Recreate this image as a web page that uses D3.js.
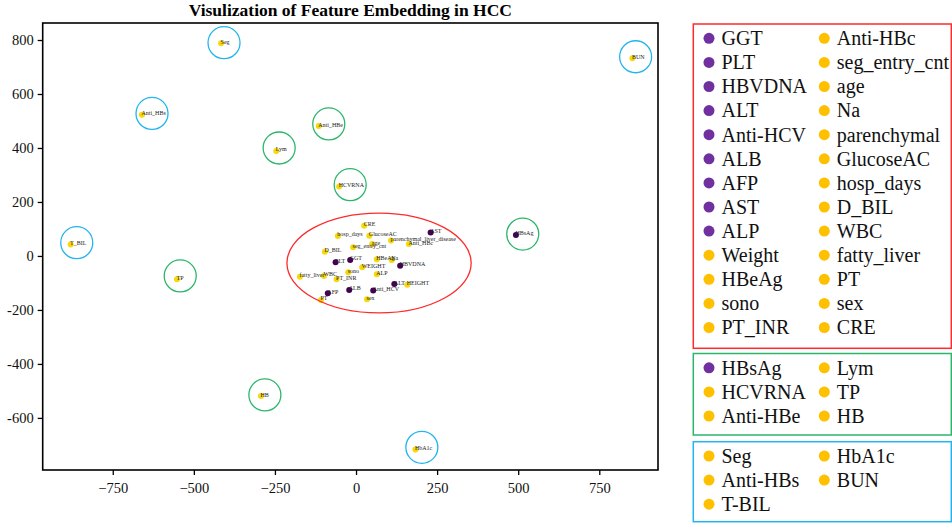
<!DOCTYPE html>
<html>
<head>
<meta charset="utf-8">
<script src="https://cdn.jsdelivr.net/npm/d3@7"></script>
<style>
  body { margin: 0; background: #fff; }
  svg { display: block; font-family: "Liberation Serif", "DejaVu Serif", serif; }
</style>
</head>
<body>
<div id="chart"></div>
<script>
// embedding points (t-SNE like coordinates)
const names = ["CRE","hosp_days","GlucoseAC","age","seg_entry_cnt","parenchymal_liver_disease","Anti_HBc","AST",
  "D_BIL","PLT","GGT","HBeAg","Na","HBVDNA","WEIGHT","sono","ALP","fatty_liver","WBC","PT_INR","ALT","HEIGHT",
  "AFP","ALB","Anti_HCV","PT","sex",
  "Seg","Anti_HBs","Anti_HBe","Lym","T_BIL","TP","HCVRNA","BUN","HBsAg","HB","HbA1c"];
const xs = [25,-56,41,50,-9,108,163,230,
  -96,-63,-18,64,110,136,19,-24,64,-173,-99,-60,118,158,
  -87,-21,53,-108,34,
  -416,-660,-115,-246,-880,-552,-52,852,493,-293,183];
const ys = [112,74,75,44,32,57,44,87,
  16,-23,-15,-12,-15,-36,-42,-60,-68,-77,-74,-86,-104,-107,
  -138,-126,-128,-163,-160,
  788,523,481,389,42,-86,257,732,78,-519,-717];
// 1 = purple class, 0 = yellow class
const cls = [0,0,0,0,0,0,0,1,
  0,1,1,0,0,1,0,0,0,0,0,0,1,0,
  1,1,1,0,0,
  0,0,0,0,0,0,0,0,1,0,0];

// highlight rings
const ringNames = ["Seg","Anti_HBs","Anti_HBe","Lym","T_BIL","TP","HCVRNA","BUN","HBsAg","HB","HbA1c"];
const ringX = [-407,-629,-84,-237,-861,-542,-18,862,514,-281,203];
const ringY = [790,528,489,400,49,-74,264,738,81,-515,-709];
const ringGroup = ["blue","blue","green","green","blue","green","green","blue","green","green","blue"];
const ellipse = {cx: 71, cy: -26, rx: 284, ry: 185};

const xTicks = [-750,-500,-250,0,250,500,750];
const yTicks = [-600,-400,-200,0,200,400,600,800];

// legend lists
const legend1Col1 = ["GGT","PLT","HBVDNA","ALT","Anti-HCV","ALB","AFP","AST","ALP","Weight","HBeAg","sono","PT_INR"];
const legend1Col1Cls = [1,1,1,1,1,1,1,1,1,0,0,0,0];
const legend1Col2 = ["Anti-HBc","seg_entry_cnt","age","Na","parenchymal","GlucoseAC","hosp_days","D_BIL","WBC","fatty_liver","PT","sex","CRE"];
const legend2Col1 = ["HBsAg","HCVRNA","Anti-HBe"];
const legend2Col1Cls = [1,0,0];
const legend2Col2 = ["Lym","TP","HB"];
const legend3Col1 = ["Seg","Anti-HBs","T-BIL"];
const legend3Col2 = ["HbA1c","BUN"];

const W = 952, H = 525;
const plot = {left: 42.7, right: 658, top: 23, bottom: 470};
const ringColor = {red: "#ff2a2a", green: "#2bb66a", blue: "#22b4ee"};
const dotColor = ["#f5d90a", "#440154"];
const legColor = ["#ffc000", "#7030a0"];

const svg = d3.select("#chart").append("svg")
  .attr("width", W).attr("height", H);

const x = d3.scaleLinear().domain([-966, 931]).range([plot.left, plot.right]);
const y = d3.scaleLinear().domain([-793, 863]).range([plot.bottom, plot.top]);

svg.append("text")
  .attr("x", (plot.left + plot.right) / 2).attr("y", 16)
  .attr("text-anchor", "middle")
  .style("font-size", "17.5px").style("font-weight", "bold")
  .text("Visulization of Feature Embedding in HCC");

// axes
const xAxis = svg.append("g")
  .attr("transform", `translate(0,${plot.bottom})`)
  .call(d3.axisBottom(x).tickValues(xTicks).tickSize(5).tickPadding(8)
    .tickFormat(d => d < 0 ? "\u2212" + Math.abs(d) : d));
const yAxis = svg.append("g")
  .attr("transform", `translate(${plot.left},0)`)
  .call(d3.axisLeft(y).tickValues(yTicks).tickSize(5).tickPadding(4)
    .tickFormat(d => String(d)));
[xAxis, yAxis].forEach(a => {
  a.select(".domain").remove();
  a.selectAll("line").attr("stroke", "#000").attr("stroke-width", 1.3);
  a.selectAll("text").style("font-size", "14.5px").style("font-family", "Liberation Serif, serif").attr("fill", "#111");
});

svg.append("rect")
  .attr("x", plot.left).attr("y", plot.top)
  .attr("width", plot.right - plot.left).attr("height", plot.bottom - plot.top)
  .attr("fill", "none").attr("stroke", "#000").attr("stroke-width", 1.6);

// points
const pts = names.map((n, i) => ({name: n, x: xs[i], y: ys[i], c: cls[i]}));
svg.append("g").selectAll("circle").data(pts).join("circle")
  .attr("cx", d => x(d.x)).attr("cy", d => y(d.y)).attr("r", 3)
  .attr("fill", d => dotColor[d.c]);
svg.append("g").selectAll("text").data(pts).join("text")
  .attr("x", d => x(d.x) - 0.5).attr("y", d => y(d.y) + 0.5)
  .style("font-size", "6px").attr("fill", "#222")
  .text(d => d.name);

// rings
svg.append("ellipse")
  .attr("cx", x(ellipse.cx)).attr("cy", y(ellipse.cy))
  .attr("rx", x(ellipse.rx) - x(0)).attr("ry", y(0) - y(ellipse.ry))
  .attr("fill", "none").attr("stroke", ringColor.red).attr("stroke-width", 1.3);
svg.append("g").selectAll("circle").data(ringNames).join("circle")
  .attr("cx", (d, i) => x(ringX[i])).attr("cy", (d, i) => y(ringY[i])).attr("r", 16)
  .attr("fill", "none").attr("stroke", (d, i) => ringColor[ringGroup[i]]).attr("stroke-width", 1.3);

// legend boxes
function legendBox(top, bottom, color, col1, col1Cls, col2) {
  const g = svg.append("g");
  g.append("rect").attr("x", 693.3).attr("y", top).attr("width", 258).attr("height", bottom - top)
    .attr("fill", "none").attr("stroke", color).attr("stroke-width", 1.5);
  const rows = [];
  col1.forEach((t, i) => rows.push({t, col: 0, row: i, c: col1Cls[i]}));
  col2.forEach((t, i) => rows.push({t, col: 1, row: i, c: 0}));
  const item = g.selectAll("g").data(rows).join("g")
    .attr("transform", d => `translate(${d.col ? 824.3 : 709},${top + 14.3 + d.row * 24.1})`);
  item.append("circle").attr("r", 5.5).attr("fill", d => legColor[d.c]);
  item.append("text").attr("x", 12.5).attr("y", 6.8)
    .style("font-size", "20px").attr("fill", "#111").text(d => d.t);
}
legendBox(24, 348.3, ringColor.red, legend1Col1, legend1Col1Cls, legend1Col2);
legendBox(353.5, 435, ringColor.green, legend2Col1, legend2Col1Cls, legend2Col2);
legendBox(441.7, 521.7, ringColor.blue, legend3Col1, [0, 0, 0], legend3Col2);
</script>
</body>
</html>
